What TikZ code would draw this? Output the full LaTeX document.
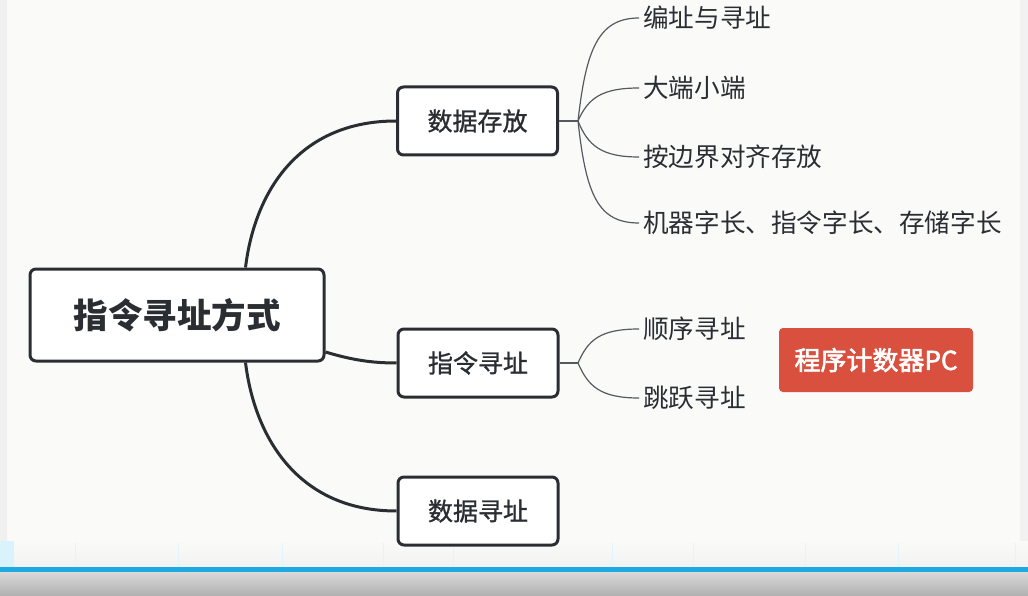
\documentclass[tikz,border=0pt]{standalone}
\usepackage{fontspec}
\setmainfont{Noto Sans CJK SC}
\newfontfamily\cjkmed{Noto Sans CJK SC}[FakeBold=1.2]
\newfontfamily\cjksemi{Noto Sans CJK SC}[FakeBold=2.2]
\usetikzlibrary{calc}
\definecolor{bgc}{HTML}{FAFAF9}
\definecolor{ink}{HTML}{2A2E33}
\definecolor{thin}{HTML}{555A5F}
\definecolor{redbox}{HTML}{D9503F}
\definecolor{barblue}{HTML}{1FA9E1}
\tikzset{
  rootbox/.style={draw=ink, line width=3pt, rounded corners=6pt, fill=white,
    minimum width=294pt, minimum height=92pt, font=\fontsize{34.5}{38}\selectfont\bfseries, text=ink},
  midbox/.style={draw=ink, line width=3pt, rounded corners=6pt, fill=white,
    minimum width=160pt, minimum height=68pt, font=\cjkmed\fontsize{25}{28}\selectfont, text=ink},
  leaf/.style={anchor=west, inner sep=4pt, font=\fontsize{25.6}{28}\selectfont, text=ink},
  tagbox/.style={fill=redbox, rounded corners=4pt, minimum width=194pt, minimum height=64pt,
    text=white, font=\cjksemi\fontsize{26}{28}\selectfont},
  mainlink/.style={draw=ink, line width=3pt},
  leaflink/.style={draw=thin, line width=1.2pt}
}
\begin{document}
\begin{tikzpicture}[x=1pt,y=-1pt]
\useasboundingbox (0,0) rectangle (1028,596);
\fill[bgc] (0,0) rectangle (1028,596);
\fill[gray!12] (0,0) rectangle (7,545);
\fill[gray!10] (1020,0) rectangle (1028,545);
% bottom strip
\shade[top color=bgc, bottom color=gray!10] (0,541) rectangle (1028,567);
\fill[cyan!15] (0,541) rectangle (14,567);
\foreach \xx in {75,178,282,383,453,612,693,805,898,1015}{
  \draw[cyan!12, line width=0.8pt] (\xx,543) -- (\xx,567);
}
\fill[barblue] (0,567) rectangle (1028,572);
\shade[top color=gray!30, bottom color=gray!62] (0,572) rectangle (1028,596);

% nodes
\node[rootbox] (root) at (177,315) {指令寻址方式};
\node[midbox] (ds) at (477.5,121) {数据存放};
\node[midbox] (zl) at (478,363) {指令寻址};
\node[midbox] (sj) at (478,511) {数据寻址};

\node[leaf] (l1) at (639,18) {编址与寻址};
\node[leaf] (l2) at (639,88) {大端小端};
\node[leaf] (l3) at (639,157) {按边界对齐存放};
\node[leaf] (l4) at (639,223) {机器字长、指令字长、存储字长};
\node[leaf] (m1) at (639,329) {顺序寻址};
\node[leaf] (m2) at (639,398) {跳跃寻址};
\node[tagbox] (pc) at (876,360) {程序计数器PC};

% main links
\coordinate (rtop) at ([xshift=217pt]root.north west);
\coordinate (rbot) at ([xshift=217pt]root.south west);
\coordinate (rright) at ([yshift=-37pt]root.east);
\draw[mainlink] (rtop) .. controls (255,190) and (300,121) .. (ds.west);
\draw[mainlink] (rright) .. controls (352,360) and (372,363) .. (zl.west);
\draw[mainlink] (rbot) .. controls (255,440) and (300,511) .. (sj.west);

% leaf links
\coordinate (h1) at (578,121);
\coordinate (h2) at (578,363);
\draw[leaflink] (ds.east) -- (h1);
\draw[leaflink] (h1) .. controls (586,50) and (598,18) .. (l1.west);
\draw[leaflink] (h1) .. controls (588,98) and (602,88) .. (l2.west);
\draw[leaflink] (h1) .. controls (588,146) and (602,157) .. (l3.west);
\draw[leaflink] (h1) .. controls (586,195) and (598,223) .. (l4.west);
\draw[leaflink] (zl.east) -- (h2);
\draw[leaflink] (h2) .. controls (588,340) and (600,329) .. (m1.west);
\draw[leaflink] (h2) .. controls (588,386) and (600,398) .. (m2.west);
\end{tikzpicture}
\end{document}
